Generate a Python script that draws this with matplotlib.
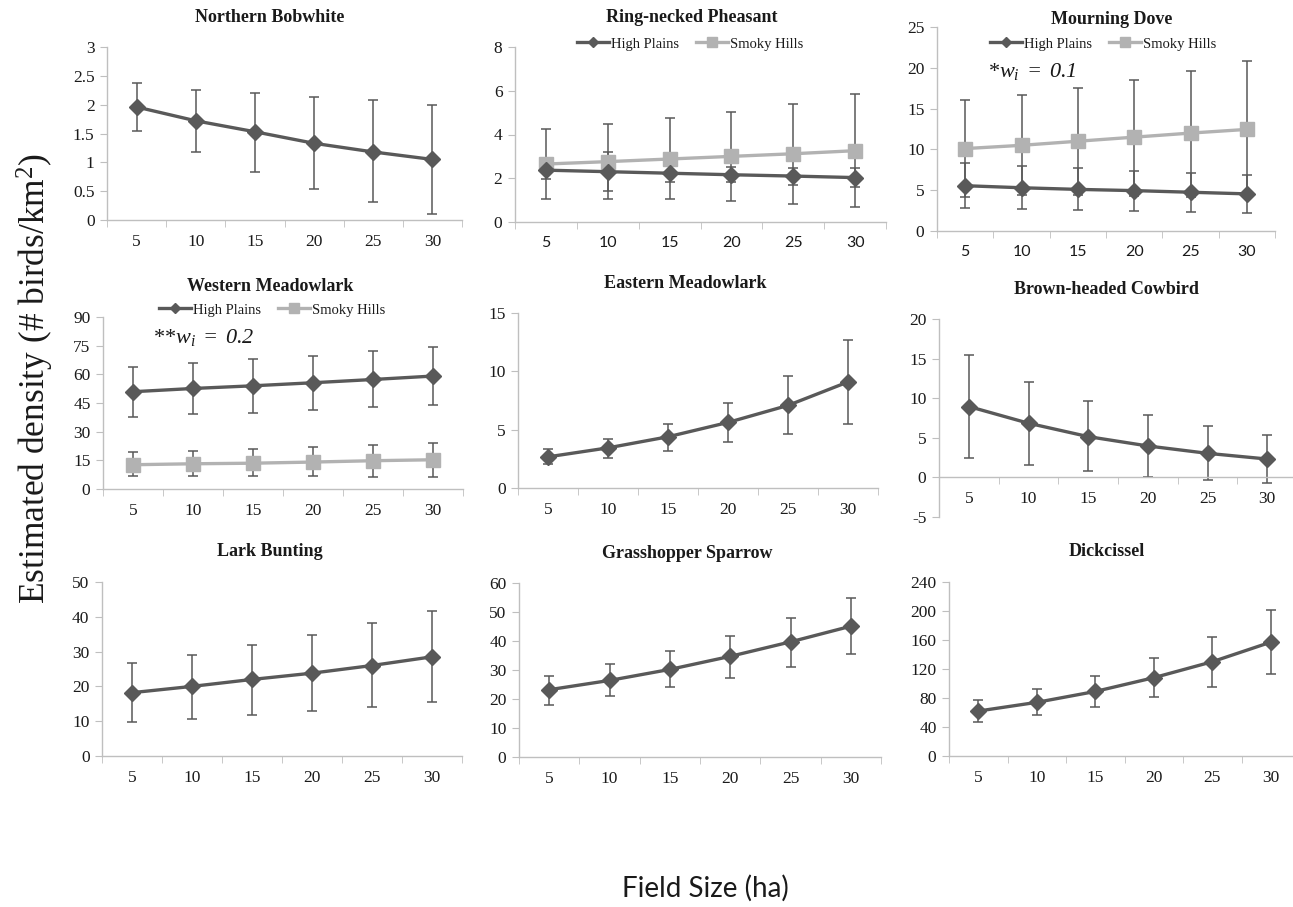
import matplotlib
matplotlib.use('Agg')
import matplotlib.pyplot as plt
from matplotlib.ticker import FixedLocator, FuncFormatter
from matplotlib.lines import Line2D

plt.rcParams['font.family'] = ['Liberation Serif', 'DejaVu Serif']
plt.rcParams['mathtext.fontset'] = 'custom'
plt.rcParams['mathtext.it'] = 'Liberation Serif:italic'
plt.rcParams['mathtext.rm'] = 'Liberation Serif:italic'

field_sizes = ['5', '10', '15', '20', '25', '30']

# each series: estimate, lower bound, upper bound
bobwhite = [1.96, 1.72, 1.53, 1.33, 1.18, 1.05]
bobwhite_lo = [1.54, 1.18, 0.84, 0.54, 0.31, 0.10]
bobwhite_hi = [2.38, 2.25, 2.20, 2.13, 2.08, 2.00]

pheasant_hp = [2.37, 2.30, 2.23, 2.16, 2.10, 2.03]
pheasant_hp_lo = [1.96, 1.42, 1.85, 1.81, 1.70, 1.59]
pheasant_hp_hi = [2.75, 3.20, 2.58, 2.53, 2.49, 2.46]
pheasant_sh = [2.65, 2.76, 2.88, 3.00, 3.12, 3.26]
pheasant_sh_lo = [1.05, 1.06, 1.05, 0.94, 0.83, 0.68]
pheasant_sh_hi = [4.27, 4.47, 4.75, 5.04, 5.40, 5.84]

dove_hp = [5.55, 5.30, 5.10, 4.95, 4.75, 4.55]
dove_hp_lo = [2.80, 2.66, 2.60, 2.40, 2.30, 2.25]
dove_hp_hi = [8.30, 8.00, 7.70, 7.40, 7.10, 6.90]
dove_sh = [10.1, 10.5, 11.0, 11.5, 12.0, 12.45]
dove_sh_lo = [4.2, 4.4, 4.4, 4.3, 4.2, 4.2]
dove_sh_hi = [16.0, 16.65, 17.5, 18.5, 19.65, 20.8]

wmeadow_hp = [50.9, 52.6, 54.0, 55.6, 57.3, 59.1]
wmeadow_hp_lo = [37.9, 39.1, 40.0, 41.3, 43.1, 44.0]
wmeadow_hp_hi = [63.9, 66.0, 67.8, 69.7, 72.1, 74.4]
wmeadow_sh = [12.7, 13.2, 13.5, 14.1, 14.8, 15.3]
wmeadow_sh_lo = [6.6, 6.6, 6.6, 6.6, 6.3, 6.3]
wmeadow_sh_hi = [19.3, 20.0, 20.8, 21.9, 23.1, 24.3]

emeadow = [2.67, 3.44, 4.39, 5.62, 7.08, 9.09]
emeadow_lo = [2.04, 2.61, 3.18, 3.90, 4.65, 5.48]
emeadow_hi = [3.30, 4.24, 5.51, 7.26, 9.58, 12.70]

cowbird = [8.95, 6.84, 5.15, 3.97, 3.04, 2.32]
cowbird_lo = [2.4, 1.6, 0.76, 0.08, -0.34, -0.68]
cowbird_hi = [15.4, 12.0, 9.7, 7.9, 6.5, 5.36]

lark = [18.2, 20.0, 22.0, 23.8, 26.0, 28.5]
lark_lo = [9.9, 10.7, 11.8, 12.8, 14.1, 15.5]
lark_hi = [26.7, 29.0, 32.0, 34.7, 38.1, 41.7]

sparrow = [23.2, 26.4, 30.2, 34.7, 39.7, 45.1]
sparrow_lo = [18.0, 20.9, 24.0, 27.4, 31.1, 35.6]
sparrow_hi = [28.0, 32.2, 36.7, 41.8, 47.8, 54.7]

dickcissel = [62, 74, 89, 108, 130, 157]
dickcissel_lo = [47, 56, 68, 81, 95, 113]
dickcissel_hi = [77, 92, 111, 135, 164, 201]

W, H = 1293, 907
HP_COLOR = '#595959'
SH_COLOR = '#b2b2b2'
ERR_COLOR = '#595959'
AXIS_COLOR = '#bfbfbf'
TEXT_COLOR = '#1a1a1a'

fig = plt.figure(figsize=(W / 100, H / 100), dpi=100)


def make_axes(left, top, right, bottom):
    # pixel box -> figure fraction
    return fig.add_axes([left / W, 1 - bottom / H, (right - left) / W, (bottom - top) / H])


def draw_series(ax, vals, lo, hi, color, marker, ms):
    x = list(range(1, len(vals) + 1))
    yerr = [[v - l for v, l in zip(vals, lo)], [h - v for v, h in zip(vals, hi)]]
    ax.errorbar(x, vals, yerr=yerr, fmt='none', ecolor=ERR_COLOR, elinewidth=1.1,
                capsize=3.5, capthick=1.1, zorder=2)
    ax.plot(x, vals, color=color, lw=2.4, marker=marker, ms=ms, zorder=3)


def style_axes(ax, ymin, ymax, step, sans_x=False):
    ax.set_xlim(0.5, 6.5)
    ax.set_ylim(ymin, ymax)
    for s in ['top', 'right']:
        ax.spines[s].set_visible(False)
    for s in ['left', 'bottom']:
        ax.spines[s].set_color(AXIS_COLOR)
        ax.spines[s].set_linewidth(1.0)
    if ymin < 0:
        ax.spines['bottom'].set_position(('data', 0))
    ticks = []
    t = ymin
    while t <= ymax + 1e-9:
        ticks.append(round(t, 6))
        t += step
    ax.yaxis.set_major_locator(FixedLocator(ticks))
    ax.yaxis.set_major_formatter(FuncFormatter(lambda v, p: '%g' % v))
    ax.set_xticks(range(1, 7))
    ax.set_xticklabels(field_sizes)
    ax.xaxis.set_minor_locator(FixedLocator([i + 0.5 for i in range(0, 7)]))
    ax.tick_params(axis='x', which='major', length=0, pad=10, labelsize=12.5, labelcolor=TEXT_COLOR)
    ax.tick_params(axis='x', which='minor', length=5, color=AXIS_COLOR, direction='out')
    ax.tick_params(axis='y', length=5, color=AXIS_COLOR, pad=4, labelsize=12.5, labelcolor=TEXT_COLOR)
    if sans_x:
        for lab in ax.get_xticklabels():
            lab.set_family(['Lato', 'DejaVu Sans'])
            lab.set_fontsize(11.5)


def title(x, y, text):
    fig.text(x / W, 1 - y / H, text, ha='center', va='center', fontsize=13, fontweight='bold',
             color=TEXT_COLOR)


def legend(ax, x, y):
    handles = [Line2D([], [], color=HP_COLOR, lw=2.4, marker='D', ms=5.5),
               Line2D([], [], color=SH_COLOR, lw=2.4, marker='s', ms=7)]
    ax.legend(handles, ['High Plains', 'Smoky Hills'], loc='center', ncol=2, frameon=False,
              bbox_to_anchor=(x / W, 1 - y / H), bbox_transform=fig.transFigure,
              fontsize=10.5, handlelength=2.2, handletextpad=0.1, columnspacing=1.2,
              labelcolor=TEXT_COLOR)


# row 1
ax = make_axes(107, 47, 462, 220)
draw_series(ax, bobwhite, bobwhite_lo, bobwhite_hi, HP_COLOR, 'D', 8.5)
style_axes(ax, 0, 3, 0.5)
title(270, 17, 'Northern Bobwhite')

ax = make_axes(515, 47, 886, 222)
draw_series(ax, pheasant_sh, pheasant_sh_lo, pheasant_sh_hi, SH_COLOR, 's', 9.5)
draw_series(ax, pheasant_hp, pheasant_hp_lo, pheasant_hp_hi, HP_COLOR, 'D', 8.5)
style_axes(ax, 0, 8, 2, sans_x=True)
title(692, 17, 'Ring-necked Pheasant')
legend(ax, 690, 44)

ax = make_axes(937, 27, 1275, 231)
draw_series(ax, dove_sh, dove_sh_lo, dove_sh_hi, SH_COLOR, 's', 9.5)
draw_series(ax, dove_hp, dove_hp_lo, dove_hp_hi, HP_COLOR, 'D', 8.5)
style_axes(ax, 0, 25, 5, sans_x=True)
title(1112, 19, 'Mourning Dove')
legend(ax, 1103, 44)
fig.text(988 / W, 1 - 72 / H, r'*$w_i\;=\;0.1$', fontsize=16, va='center',
         color=TEXT_COLOR)

# row 2
ax = make_axes(103, 317, 463, 489)
draw_series(ax, wmeadow_sh, wmeadow_sh_lo, wmeadow_sh_hi, SH_COLOR, 's', 9.5)
draw_series(ax, wmeadow_hp, wmeadow_hp_lo, wmeadow_hp_hi, HP_COLOR, 'D', 8.5)
style_axes(ax, 0, 90, 15)
title(270, 287, 'Western Meadowlark')
legend(ax, 272, 310)
fig.text(153 / W, 1 - 337 / H, r'**$w_i\;=\;0.2$', fontsize=16, va='center',
         color=TEXT_COLOR)

ax = make_axes(518, 313, 878, 488)
draw_series(ax, emeadow, emeadow_lo, emeadow_hi, HP_COLOR, 'D', 8.5)
style_axes(ax, 0, 15, 5)
title(685, 284, 'Eastern Meadowlark')

ax = make_axes(939, 319, 1297, 517)
draw_series(ax, cowbird, cowbird_lo, cowbird_hi, HP_COLOR, 'D', 8.5)
style_axes(ax, -5, 20, 5)
title(1106, 290, 'Brown-headed Cowbird')

# row 3
ax = make_axes(102, 582, 462, 756)
draw_series(ax, lark, lark_lo, lark_hi, HP_COLOR, 'D', 8.5)
style_axes(ax, 0, 50, 10)
title(270, 552, 'Lark Bunting')

ax = make_axes(519, 583, 881, 757)
draw_series(ax, sparrow, sparrow_lo, sparrow_hi, HP_COLOR, 'D', 8.5)
style_axes(ax, 0, 60, 10)
title(687, 553, 'Grasshopper Sparrow')

ax = make_axes(949, 582, 1300, 756)
draw_series(ax, dickcissel, dickcissel_lo, dickcissel_hi, HP_COLOR, 'D', 8.5)
style_axes(ax, 0, 240, 40)
title(1107, 552, 'Dickcissel')

fig.text(35 / W, 1 - 378 / H, r'Estimated density (# birds/km$^\mathregular{2}$)', rotation=90,
         ha='center', va='center', fontsize=25.5, color=TEXT_COLOR)
fig.text(705 / W, 1 - 888 / H, 'Field Size (ha)', ha='center', va='center', fontsize=20,
         family=['Lato', 'DejaVu Sans'], color=TEXT_COLOR)

fig.savefig('out.png', dpi=100)
